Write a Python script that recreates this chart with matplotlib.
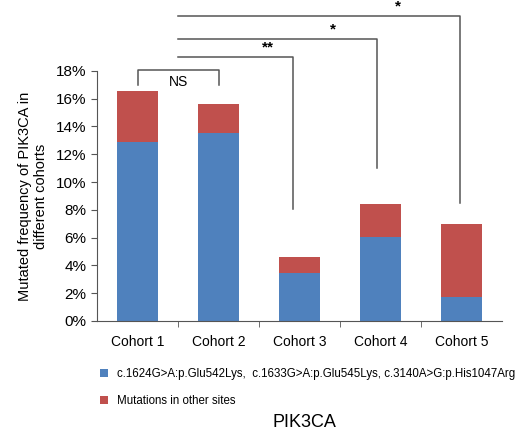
import matplotlib.pyplot as plt
import numpy as np

# data (percent)
cohorts = ['Cohort 1', 'Cohort 2', 'Cohort 3', 'Cohort 4', 'Cohort 5']
hotspot = [12.9, 13.5, 3.45, 6.05, 1.75]
total = [16.55, 15.6, 4.6, 8.4, 6.95]
other = [t - h for t, h in zip(total, hotspot)]

# significance brackets: (x left, x right, top, left leg end, right leg end, label)
brackets = [
    (0, 1, 18.05, 17.0, 16.95, 'NS'),
    (0.5, 1.92, 19.0, 19.0, 8.05, '**'),
    (0.5, 2.95, 20.3, 20.3, 11.0, '*'),
    (0.5, 3.98, 21.95, 21.95, 8.5, '*'),
]

blue = '#4F81BD'
red = '#C0504D'
gray = '#555555'

plt.rcParams['font.family'] = ['Liberation Sans', 'DejaVu Sans']

fig = plt.figure(figsize=(5.22, 4.32), dpi=100)
ax = fig.add_axes([0.186, 0.257, 0.776, 0.579])

x = np.arange(len(cohorts))
ax.bar(x, hotspot, width=0.5, color=blue, label='c.1624G>A:p.Glu542Lys,  c.1633G>A:p.Glu545Lys, c.3140A>G:p.His1047Arg')
ax.bar(x, other, width=0.5, bottom=hotspot, color=red, label='Mutations in other sites')

ax.set_xlim(-0.5, len(cohorts) - 0.5)
ax.set_ylim(0, 18)
ax.set_yticks(np.arange(0, 19, 2))
ax.set_yticklabels(['%d%%' % v for v in np.arange(0, 19, 2)], fontsize=11)
ax.set_xticks(x)
ax.set_xticklabels(cohorts, fontsize=10)
ax.set_xticks(np.arange(0.5, len(cohorts) - 1, 1), minor=True)
ax.tick_params(axis='x', which='major', length=0, pad=10)
ax.tick_params(axis='x', which='minor', length=4, color=gray)
ax.tick_params(axis='y', length=4, color=gray)
for s in ['top', 'right']:
    ax.spines[s].set_visible(False)
for s in ['left', 'bottom']:
    ax.spines[s].set_color(gray)

ax.set_ylabel('Mutated frequency of PIK3CA in\ndifferent cohorts', fontsize=10.5,
              labelpad=6, multialignment='center')

for xl, xr, top, ll, rl, lab in brackets:
    ax.plot([xl, xl, xr, xr], [ll, top, top, rl], color=gray, lw=1.1, clip_on=False)
    if lab == 'NS':
        ax.text((xl + xr) / 2, top - 0.35, lab, ha='center', va='top', fontsize=10)
    else:
        ax.text(xl + (xr - xl) * 0.78, top + 0.15, lab, ha='center', va='bottom',
                fontsize=11, fontweight='bold')

fig.legend(loc='upper left', bbox_to_anchor=(0.172, 0.172), frameon=False, fontsize=8.3,
           handlelength=0.65, handleheight=0.65, labelspacing=1.3, handletextpad=0.8)
fig.text(0.583, 0.022, 'PIK3CA', ha='center', va='center', fontsize=13)

fig.savefig('out.png', dpi=100)
